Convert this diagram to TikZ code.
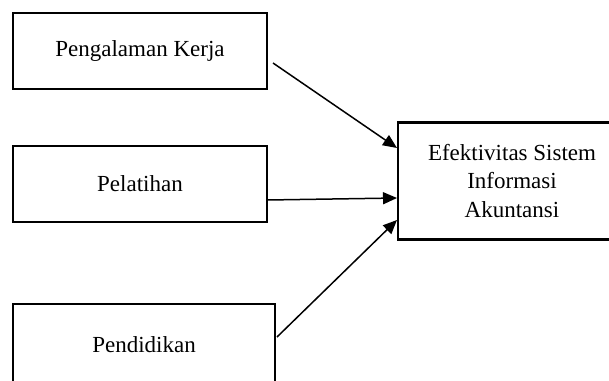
\documentclass[tikz,border=0pt]{standalone}
\usepackage{fontspec}
\setmainfont{Liberation Serif}
\usetikzlibrary{arrows.meta}
\begin{document}
\begin{tikzpicture}[x=0.5pt,y=-0.5pt,
  varbox/.style={draw, line width=1.3pt, rectangle, inner sep=0pt, font=\fontsize{11.5}{14.3}\selectfont, align=center},
  arr/.style={line width=0.75pt, -{Triangle[length=7pt,width=6pt]}}]
\clip (0,0) rectangle (609,380);
\fill[white] (0,0) rectangle (609,380);
\node[varbox, minimum width=127pt, minimum height=38pt] (b1) at (140,51) {Pengalaman Kerja};
\node[varbox, minimum width=127pt, minimum height=38pt] (b2) at (140,184) {Pelatihan};
\node[varbox, minimum width=131pt, minimum height=41pt] (b3) at (144,345) {Pendidikan};
\node[varbox, minimum width=114pt, minimum height=58.5pt] (y) at (512,181) {Efektivitas Sistem\\Informasi\\Akuntansi};
\coordinate (s1) at (273,63);
\coordinate (s2) at (267,200);
\coordinate (s3) at (277,337);
\coordinate (e1) at (397,148);
\coordinate (e2) at (397,198);
\coordinate (e3) at (397,220);
\draw[arr] (s1) -- (e1);
\draw[arr] (s2) -- (e2);
\draw[arr] (s3) -- (e3);
\end{tikzpicture}
\end{document}
